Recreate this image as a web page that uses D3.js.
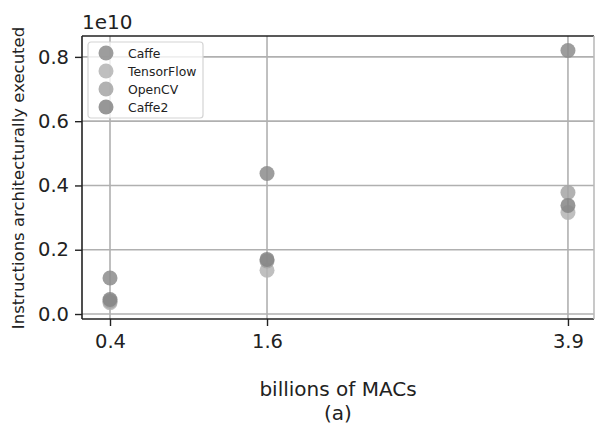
<!DOCTYPE html>
<html>
<head>
<meta charset="utf-8">
<script src="https://cdn.jsdelivr.net/npm/d3@7"></script>
<style>
  html, body { margin: 0; padding: 0; background: #fff; }
  svg { display: block; font-family: "DejaVu Sans", sans-serif; }
</style>
</head>
<body>
<svg id="chart" width="595" height="430"></svg>
<script>
// Model size (billions of multiply-accumulates) per network
const macs = [0.4, 1.6, 3.9];
const xTicks = [0.4, 1.6, 3.9];
const yTicks = [0, 0.2e10, 0.4e10, 0.6e10, 0.8e10];

// Instructions architecturally executed, per framework
const frameworks = ["Caffe", "TensorFlow", "OpenCV", "Caffe2"];
const caffe      = [1.12e9, 4.37e9, 8.20e9];
const tensorflow = [0.35e9, 1.36e9, 3.16e9];
const opencv     = [0.40e9, 1.65e9, 3.78e9];
const caffe2     = [0.45e9, 1.70e9, 3.38e9];
const seriesValues = [caffe, tensorflow, opencv, caffe2];
const colors = ["#8c8c8c", "#b4b4b4", "#a4a4a4", "#858585"];

const svg = d3.select("#chart");
const margin = { left: 82, right: 1, top: 36, bottom: 111 };
const W = 595, H = 430;
const x0 = margin.left, x1 = W - margin.right;
const y0 = H - margin.bottom, y1 = margin.top;

const x = d3.scaleLinear().domain([0.186, 4.099]).range([x0, x1]);
const y = d3.scaleLinear().domain([-0.0155e10, 0.865e10]).range([y0, y1]);

// grid
const grid = svg.append("g");
grid.selectAll("line.gx").data(xTicks).join("line")
  .attr("x1", d => x(d)).attr("x2", d => x(d))
  .attr("y1", y1).attr("y2", y0)
  .attr("stroke", "#b0b0b0").attr("stroke-width", 1.6);
grid.selectAll("line.gy").data(yTicks).join("line")
  .attr("x1", x0).attr("x2", x1)
  .attr("y1", d => y(d)).attr("y2", d => y(d))
  .attr("stroke", "#b0b0b0").attr("stroke-width", 1.6);

// points
seriesValues.forEach((vals, i) => {
  svg.append("g").selectAll("circle").data(vals).join("circle")
    .attr("cx", (d, j) => x(macs[j]))
    .attr("cy", d => y(d))
    .attr("r", 7.5)
    .attr("fill", colors[i])
    .attr("fill-opacity", 0.85);
});

// axes
const xAxis = d3.axisBottom(x).tickValues(xTicks).tickFormat(d3.format(".1f"))
  .tickSize(7).tickPadding(6);
const yAxis = d3.axisLeft(y).tickValues(yTicks).tickFormat(d => (d / 1e10).toFixed(1))
  .tickSize(7).tickPadding(6);

const gx = svg.append("g").attr("transform", `translate(0,${y0})`).call(xAxis);
const gy = svg.append("g").attr("transform", `translate(${x0},0)`).call(yAxis);
[gx, gy].forEach(g => {
  g.select(".domain").remove();
  g.selectAll(".tick line").attr("stroke", "#222").attr("stroke-width", 1.4);
  g.selectAll(".tick text").attr("fill", "#222").style("font-size", "19.5px")
    .style("font-family", "DejaVu Sans, sans-serif");
});
gx.selectAll(".tick text").attr("dy", "0.82em");

// frame
svg.append("line").attr("x1", x0).attr("x2", x1).attr("y1", y1).attr("y2", y1)
  .attr("stroke", "#222").attr("stroke-width", 1.6);
svg.append("line").attr("x1", x0).attr("x2", x1).attr("y1", y0).attr("y2", y0)
  .attr("stroke", "#222").attr("stroke-width", 1.6);
svg.append("line").attr("x1", x0).attr("x2", x0).attr("y1", y1).attr("y2", y0)
  .attr("stroke", "#222").attr("stroke-width", 1.6);
svg.append("line").attr("x1", x1).attr("x2", x1).attr("y1", y1).attr("y2", y0)
  .attr("stroke", "#bbb").attr("stroke-width", 1.6);

// offset label
svg.append("text").attr("x", x0).attr("y", 29).attr("fill", "#222")
  .style("font-size", "20px").text("1e10");

// axis titles
svg.append("text")
  .attr("transform", `translate(24,178) rotate(-90)`)
  .attr("text-anchor", "middle").attr("fill", "#222")
  .style("font-size", "16.5px").text("Instructions architecturally executed");
svg.append("text").attr("x", 338).attr("y", 396).attr("text-anchor", "middle")
  .attr("fill", "#222").style("font-size", "20px").text("billions of MACs");
svg.append("text").attr("x", 338).attr("y", 420).attr("text-anchor", "middle")
  .attr("fill", "#222").style("font-size", "20px").text("(a)");

// legend
const lg = svg.append("g").attr("transform", "translate(88,42)");
lg.append("rect").attr("width", 115).attr("height", 76).attr("rx", 3)
  .attr("fill", "#fff").attr("fill-opacity", 0.8)
  .attr("stroke", "#d4d4d4").attr("stroke-width", 1.2);
frameworks.forEach((name, i) => {
  const row = lg.append("g").attr("transform", `translate(0,${11 + i * 18})`);
  row.append("circle").attr("cx", 18).attr("cy", 0).attr("r", 7.5)
    .attr("fill", colors[i]).attr("fill-opacity", 0.85);
  row.append("text").attr("x", 40).attr("y", 4.5).attr("fill", "#222")
    .style("font-size", "12.4px").text(name);
});
</script>
</body>
</html>
